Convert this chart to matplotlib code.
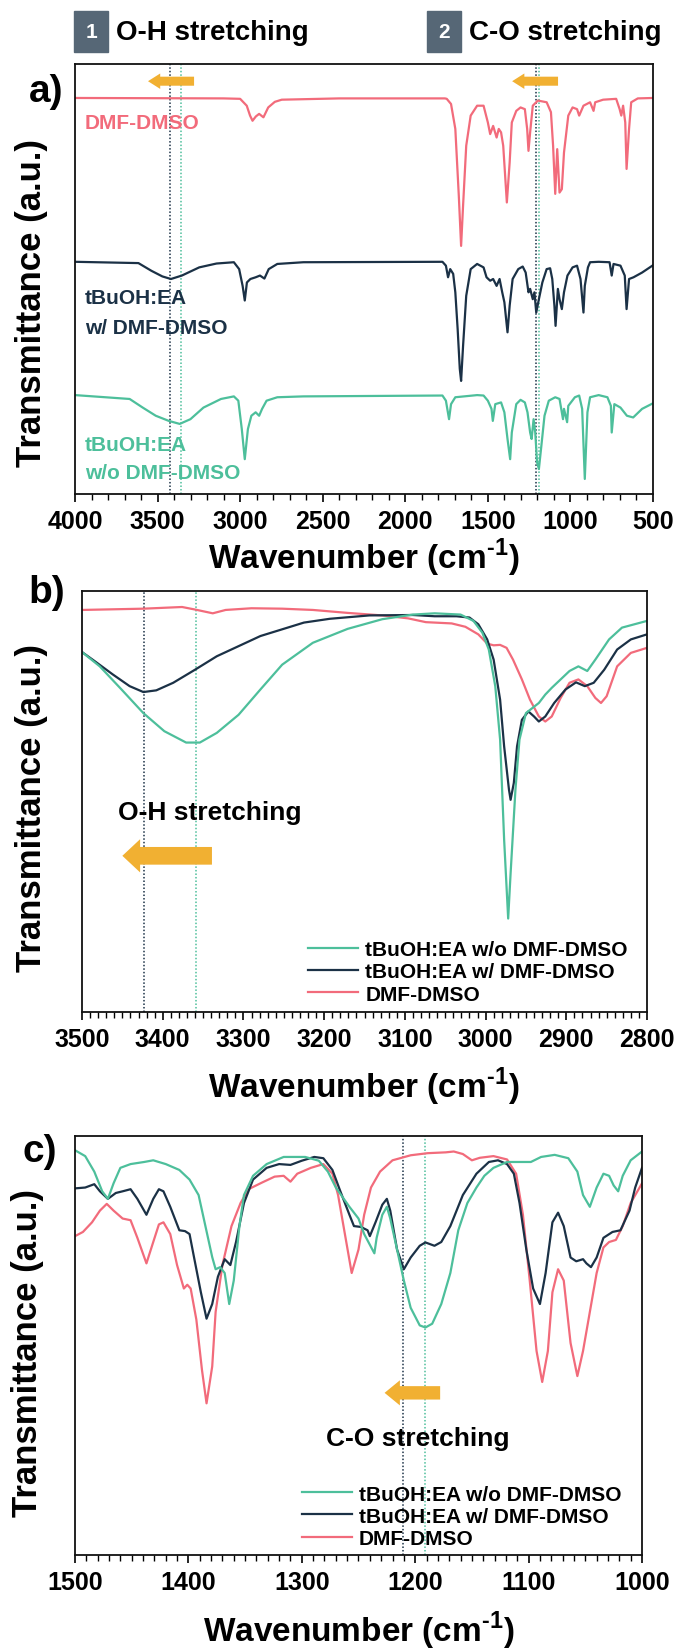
import matplotlib
matplotlib.use("Agg")
import matplotlib.pyplot as plt
import numpy as np
from matplotlib.patches import FancyArrow, Rectangle
from matplotlib.ticker import MultipleLocator, NullLocator

plt.rcParams['font.family'] = ['Liberation Sans', 'DejaVu Sans']
plt.rcParams['font.weight'] = 'bold'
plt.rcParams['mathtext.fontset'] = 'custom'
plt.rcParams['mathtext.rm'] = 'Liberation Sans:bold'
plt.rcParams['mathtext.bf'] = 'Liberation Sans:bold'

RED = '#F26B7B'
NAVY = '#1B3146'
TEAL = '#4DBF9B'
ORANGE = '#F1B032'
SLATE = '#566776'

LBL_WO = 'tBuOH:EA w/o DMF-DMSO'
LBL_W = 'tBuOH:EA w/ DMF-DMSO'
LBL_DMF = 'DMF-DMSO'

# ---- full range spectra (stacked), panel a ----
a_dmf_wn = [4000, 3100, 3000, 2960, 2940, 2925, 2905, 2885, 2859, 2830, 2790, 2748, 2400, 1760,
            1749, 1723, 1697, 1676, 1662, 1650, 1631, 1604, 1565, 1526, 1500, 1486, 1468, 1447,
            1434, 1420, 1407, 1394, 1385, 1368, 1355, 1328, 1302, 1276, 1262, 1254, 1244, 1228,
            1197, 1144, 1118, 1105, 1092, 1080, 1066, 1052, 1039, 1013, 987, 960, 947, 921, 881,
            860, 850, 802, 723, 702, 692, 681, 668, 660, 645, 632, 592, 500]
a_dmf_t = [92.1, 92.0, 91.9, 90.3, 88.0, 86.8, 87.8, 88.4, 87.6, 89.9, 91.2, 91.7, 92.0, 92.0,
           91.9, 90.7, 84.9, 69.4, 57.7, 67.1, 81.0, 88.0, 90.3, 90.3, 86.4, 83.7, 85.6, 82.9,
           84.9, 84.1, 81.0, 73.2, 67.8, 77.1, 86.4, 89.1, 89.9, 89.5, 84.9, 79.8, 84.1, 90.3,
           91.5, 91.1, 88.8, 81.0, 69.8, 80.2, 70.1, 70.9, 79.4, 88.0, 89.9, 89.5, 88.0, 90.3, 91.1,
           89.1, 91.1, 91.7, 91.9, 89.5, 88.0, 90.3, 86.4, 75.6, 84.9, 91.1, 92.0, 92.1]

a_w_wn = [4000, 3616, 3537, 3471, 3419, 3353, 3248, 3143, 3038, 3006, 2985, 2972, 2959, 2938,
          2906, 2880, 2853, 2827, 2775, 2617, 1775, 1754, 1741, 1728, 1710, 1697, 1683, 1670,
          1662, 1650, 1631, 1604, 1565, 1526, 1508, 1486, 1468, 1447, 1429, 1413, 1400, 1381,
          1368, 1350, 1316, 1289, 1271, 1254, 1244, 1228, 1218, 1207, 1191, 1170, 1144, 1123,
          1110, 1097, 1090, 1076, 1066, 1052, 1039, 1018, 987, 960, 939, 921, 913, 894, 881,
          829, 763, 750, 739, 697, 671, 660, 645, 618, 566, 500]
a_w_t = [54.0, 53.7, 51.9, 50.6, 50.0, 50.8, 52.7, 53.6, 53.9, 52.3, 48.4, 45.0, 49.2, 50.0,
         50.4, 50.8, 50.1, 52.3, 53.5, 53.9, 54.0, 53.1, 50.4, 52.3, 51.2, 46.9, 38.4, 29.1,
         26.3, 34.5, 46.1, 52.3, 53.5, 52.7, 50.4, 49.6, 50.0, 48.4, 50.0, 46.9, 44.6, 37.6,
         43.8, 50.0, 52.3, 52.9, 51.5, 46.9, 47.7, 45.3, 46.9, 42.2, 45.3, 49.2, 52.3, 52.5,
         50.0, 43.8, 39.1, 47.7, 45.3, 43.0, 46.9, 50.8, 52.7, 53.1, 50.0, 42.2, 48.4, 52.7, 53.9,
         54.0, 53.9, 50.8, 53.5, 53.1, 50.8, 43.0, 50.0, 50.4, 51.5, 53.2]

a_wo_wn = [4000, 3669, 3590, 3511, 3432, 3366, 3301, 3222, 3116, 3038, 3011, 2990, 2972, 2953,
           2932, 2906, 2885, 2867, 2840, 2775, 2617, 1775, 1754, 1735, 1723, 1697, 1565, 1526,
           1500, 1478, 1470, 1455, 1420, 1400, 1381, 1365, 1355, 1328, 1302, 1276, 1260, 1244,
           1235, 1223, 1213, 1202, 1191, 1176, 1157, 1131, 1092, 1066, 1045, 1039, 1020, 1013,
           973, 947, 929, 913, 897, 881, 829, 776, 755, 750, 734, 697, 658, 620, 566, 500]
a_wo_t = [23.0, 22.1, 20.1, 18.2, 17.0, 16.3, 17.4, 20.1, 22.1, 22.7, 21.7, 15.1, 8.1, 15.1,
          18.2, 19.0, 18.2, 19.8, 21.7, 22.5, 22.7, 22.9, 21.7, 17.4, 20.9, 22.5, 23.0, 22.9,
          21.7, 19.8, 17.0, 20.9, 21.3, 19.0, 12.8, 8.1, 14.3, 20.9, 21.9, 21.3, 19.0, 14.3,
          12.8, 17.4, 14.3, 7.4, 5.8, 11.2, 18.2, 21.7, 22.5, 22.1, 17.4, 19.8, 16.7, 20.5,
          22.5, 22.9, 19.8, 3.5, 19.0, 22.5, 23.0, 22.5, 20.5, 14.3, 20.9, 20.1, 18.2, 17.8, 19.8, 21.1]

# ---- O-H / C-H region, panel b ----
b_dmf_wn = [3500, 3424, 3376, 3360, 3338, 3322, 3290, 3252, 3214, 3171, 3128, 3096, 3074, 3042,
            3025, 3009, 2998, 2990, 2982, 2974, 2966, 2955, 2945, 2934, 2926, 2918, 2907, 2896,
            2885, 2874, 2864, 2857, 2850, 2837, 2820, 2800]
b_dmf_t = [95.5, 95.8, 96.2, 95.6, 94.7, 95.5, 95.9, 95.8, 95.5, 94.8, 94.2, 93.5, 92.6, 92.3,
           91.5, 89.7, 87.5, 87.1, 87.2, 86.5, 83.7, 79.0, 74.2, 70.2, 69.0, 70.2, 74.6, 78.2,
           79.0, 77.4, 74.6, 73.4, 75.0, 82.1, 85.3, 86.5]

b_w_wn = [3500, 3484, 3462, 3441, 3424, 3408, 3387, 3360, 3333, 3306, 3279, 3252, 3225, 3193,
          3144, 3090, 3063, 3036, 3020, 3009, 2998, 2990, 2982, 2977, 2971, 2969, 2965, 2961,
          2955, 2947, 2940, 2934, 2926, 2915, 2901, 2888, 2877, 2866, 2853, 2837, 2820, 2800]
b_w_t = [85.5, 83.3, 80.2, 77.4, 76.0, 76.4, 78.2, 81.3, 84.5, 86.9, 89.3, 90.9, 92.5, 93.4,
         94.2, 94.3, 94.0, 94.0, 93.7, 92.1, 88.5, 83.7, 74.2, 63.1, 52.8, 50.4, 54.4, 63.1,
         69.4, 71.4, 70.2, 69.0, 70.2, 73.4, 76.6, 78.3, 77.4, 78.2, 81.3, 86.1, 88.5, 89.7]

b_wo_wn = [3500, 3478, 3451, 3424, 3398, 3371, 3354, 3333, 3306, 3279, 3252, 3214, 3171, 3128,
           3090, 3063, 3031, 3015, 3004, 2996, 2988, 2982, 2977, 2972, 2969, 2963, 2958, 2950,
           2942, 2934, 2926, 2918, 2907, 2896, 2885, 2874, 2864, 2847, 2831, 2800]
b_wo_t = [85.5, 82.1, 76.6, 71.0, 66.7, 64.0, 64.0, 66.3, 70.6, 76.6, 82.5, 87.7, 91.0, 93.3,
          94.4, 94.7, 94.4, 92.9, 90.1, 86.1, 77.4, 64.7, 40.9, 22.2, 32.9, 52.8, 64.7, 71.0,
          72.2, 73.4, 75.4, 77.0, 79.0, 81.0, 82.1, 81.0, 83.7, 88.5, 91.3, 92.9]

# ---- fingerprint region, panel c ----
c_wo_wn = [1500, 1491, 1483, 1476, 1471, 1466, 1460, 1451, 1439, 1431, 1420, 1408, 1399, 1391,
           1385, 1379, 1376, 1372, 1368, 1364, 1360, 1355, 1351, 1343, 1331, 1316, 1297, 1285,
           1277, 1270, 1258, 1250, 1245, 1236, 1234, 1229, 1225, 1222, 1216, 1210, 1204, 1196,
           1191, 1185, 1177, 1169, 1162, 1154, 1146, 1139, 1131, 1119, 1108, 1098, 1089, 1077,
           1065, 1057, 1052, 1046, 1040, 1034, 1029, 1025, 1021, 1017, 1010, 1000]
c_wo_t = [96.6, 95.2, 91.5, 86.8, 85.0, 88.7, 92.4, 93.3, 93.8, 94.2, 93.3, 91.9, 89.6, 85.9,
          78.5, 71.1, 68.2, 68.7, 67.3, 59.9, 65.5, 78.5, 85.9, 90.5, 93.3, 95.0, 95.0, 94.1,
          91.5, 87.7, 83.1, 80.3, 76.6, 72.0, 75.7, 81.2, 83.1, 80.3, 72.9, 65.5, 59.0, 54.8,
          54.3, 55.2, 59.9, 67.3, 77.5, 84.0, 87.7, 90.5, 92.4, 93.8, 93.8, 93.8, 95.0, 95.5,
          94.7, 91.5, 85.9, 83.1, 87.7, 91.0, 90.5, 88.2, 86.8, 90.5, 94.2, 96.3]

c_w_wn = [1500, 1491, 1483, 1478, 1471, 1464, 1458, 1451, 1445, 1437, 1431, 1426, 1422, 1416,
          1408, 1403, 1399, 1395, 1389, 1384, 1379, 1374, 1368, 1363, 1358, 1351, 1343, 1331,
          1320, 1310, 1300, 1289, 1281, 1273, 1266, 1258, 1254, 1248, 1242, 1240, 1235, 1229,
          1225, 1222, 1216, 1210, 1204, 1196, 1191, 1183, 1177, 1169, 1158, 1146, 1135, 1127,
          1119, 1113, 1108, 1102, 1096, 1090, 1085, 1079, 1074, 1069, 1063, 1058, 1052, 1049,
          1045, 1040, 1034, 1026, 1019, 1011, 1006, 1000]
c_w_t = [87.5, 87.7, 88.5, 86.8, 85.0, 86.4, 86.8, 87.3, 85.0, 81.2, 85.0, 87.3, 86.8, 83.1,
         77.5, 77.3, 76.6, 71.0, 62.7, 56.4, 59.9, 66.4, 70.6, 69.2, 74.7, 84.0, 89.6, 92.4,
         93.3, 93.1, 94.1, 95.0, 94.7, 91.9, 86.8, 81.2, 78.5, 78.3, 77.5, 76.1, 79.4, 83.6,
         85.0, 82.2, 72.9, 68.2, 71.0, 73.8, 74.6, 73.8, 74.7, 78.5, 85.9, 91.0, 93.8, 94.2,
         93.3, 91.0, 84.0, 72.9, 63.6, 59.9, 67.3, 79.4, 81.7, 78.5, 71.0, 70.1, 70.6, 69.6,
         68.7, 71.0, 75.7, 77.1, 77.5, 82.2, 87.7, 92.4]

c_dmf_wn = [1500, 1493, 1485, 1478, 1472, 1466, 1458, 1451, 1445, 1437, 1431, 1426, 1422, 1416,
            1410, 1404, 1401, 1398, 1393, 1388, 1384, 1379, 1376, 1370, 1362, 1354, 1347, 1335,
            1324, 1316, 1310, 1304, 1292, 1281, 1273, 1268, 1262, 1256, 1250, 1245, 1239, 1231,
            1220, 1204, 1189, 1173, 1166, 1158, 1150, 1143, 1131, 1119, 1111, 1105, 1099, 1093,
            1088, 1083, 1079, 1074, 1069, 1063, 1057, 1052, 1046, 1040, 1034, 1029, 1023, 1017,
            1010, 1000]
c_dmf_t = [76.1, 77.1, 79.4, 82.2, 83.8, 82.2, 80.3, 79.9, 75.7, 69.6, 74.7, 78.9, 79.4, 76.6,
           69.2, 63.6, 64.5, 63.6, 56.2, 44.1, 36.2, 45.0, 58.0, 69.2, 78.5, 84.0, 87.3, 88.9,
           90.3, 90.5, 89.1, 91.0, 92.4, 93.3, 91.0, 85.9, 76.6, 67.3, 72.9, 81.2, 87.7, 91.5,
           94.2, 95.4, 95.9, 96.1, 96.3, 95.7, 94.2, 94.8, 95.2, 94.4, 91.0, 81.2, 65.5, 48.7,
           41.3, 48.7, 62.7, 68.2, 65.5, 50.6, 42.7, 48.7, 58.0, 67.3, 73.4, 74.7, 75.2, 78.5,
           84.0, 88.7]

# marker positions (cm-1)
oh_w, oh_wo = 3423, 3359
co_w, co_wo = 1211, 1191

W, H = 681, 1649
fig = plt.figure(figsize=(W / 100, H / 100), dpi=100)


def box(left, top, right, bottom):
    return [left / W, 1 - bottom / H, (right - left) / W, (bottom - top) / H]


def style(ax, xlim, major, minor):
    ax.set_xlim(*xlim)
    ax.set_ylim(0, 100)
    ax.xaxis.set_major_locator(MultipleLocator(major))
    ax.xaxis.set_minor_locator(MultipleLocator(minor))
    ax.yaxis.set_major_locator(NullLocator())
    ax.tick_params(axis='x', which='major', direction='out', length=6, width=1.2,
                   pad=5, labelsize=18)
    ax.tick_params(axis='x', which='minor', direction='out', length=4, width=1.0)
    for s in ax.spines.values():
        s.set_linewidth(1.3)
        s.set_color('#111111')
    for lab in ax.get_xticklabels():
        lab.set_fontweight('bold')


def arrow(ax, tail, tip, y, shaft, head, hlen):
    ax.add_patch(FancyArrow(tail, y, tip - tail, 0, width=shaft, head_width=head,
                            head_length=hlen, length_includes_head=True,
                            color=ORANGE, lw=0, zorder=4))


def vlines(ax, xs, cols):
    for x, c in zip(xs, cols):
        ax.axvline(x, color=c, lw=1.1, ls=(0, (1, 1.3)), zorder=1)


xlab = r'Wavenumber (cm$^{\text{-}1}$)'
ylab = 'Transmittance (a.u.)'

# header tags
for left, num, txt in [(74, '1', 'O-H stretching'), (427, '2', 'C-O stretching')]:
    fig.patches.append(Rectangle((left / W, 1 - 53 / H), 34 / W, 41 / H,
                                 transform=fig.transFigure, color=SLATE))
    fig.text((left + 17) / W, 1 - 33 / H, num, color='white', fontsize=15,
             ha='center', va='center')
    fig.text((left + 42) / W, 1 - 33 / H, txt, color='black', fontsize=20,
             ha='left', va='center')

# panel a
ax = fig.add_axes(box(75, 65, 653, 495))
ax.plot(a_dmf_wn, a_dmf_t, color=RED, lw=1.6)
ax.plot(a_w_wn, a_w_t, color=NAVY, lw=1.6)
ax.plot(a_wo_wn, a_wo_t, color=TEAL, lw=1.6)
vlines(ax, [oh_w, oh_wo, co_w, co_wo], [NAVY, TEAL, NAVY, TEAL])
arrow(ax, 3279, 3558, 96.0, 2.1, 3.6, 74)
arrow(ax, 1075, 1353, 96.0, 2.1, 3.6, 74)
style(ax, (4000, 500), 500, 100)
ax.text(3940, 86.5, 'DMF-DMSO', color=RED, fontsize=15, va='center')
ax.text(3940, 45.6, 'tBuOH:EA', color=NAVY, fontsize=15, va='center')
ax.text(3940, 38.8, 'w/ DMF-DMSO', color=NAVY, fontsize=15, va='center')
ax.text(3940, 11.6, 'tBuOH:EA', color=TEAL, fontsize=15, va='center')
ax.text(3940, 5.1, 'w/o DMF-DMSO', color=TEAL, fontsize=15, va='center')
fig.text(63 / W, 1 - 92 / H, 'a)', fontsize=28, ha='right', va='center')
fig.text(364 / W, 1 - 569 / H, xlab, fontsize=24, ha='center', va='baseline')
fig.text(32 / W, 1 - 303 / H, ylab, fontsize=25, rotation=90, ha='center', va='center')

# panel b
ax = fig.add_axes(box(82, 592, 647, 1013))
ax.plot(b_dmf_wn, b_dmf_t, color=RED, lw=1.6, label=LBL_DMF)
ax.plot(b_w_wn, b_w_t, color=NAVY, lw=1.6, label=LBL_W)
ax.plot(b_wo_wn, b_wo_t, color=TEAL, lw=1.6, label=LBL_WO)
vlines(ax, [oh_w, oh_wo], [NAVY, TEAL])
arrow(ax, 3339, 3450, 37.1, 4.2, 7.9, 22)
ax.text(3455, 47.5, 'O-H stretching', fontsize=19, va='center')
style(ax, (3500, 2800), 100, 10)
h, l = ax.get_legend_handles_labels()
ax.legend(h[::-1], l[::-1], loc='lower left', bbox_to_anchor=(0.40, 0.02), frameon=False,
          fontsize=15, borderpad=0, borderaxespad=0, handlelength=2.4,
          handletextpad=0.35, labelspacing=0.15)
fig.text(65 / W, 1 - 593 / H, 'b)', fontsize=28, ha='right', va='center')
fig.text(364 / W, 1 - 1098 / H, xlab, fontsize=24, ha='center', va='baseline')
fig.text(32 / W, 1 - 808 / H, ylab, fontsize=25, rotation=90, ha='center', va='center')

# panel c
ax = fig.add_axes(box(75, 1137, 642, 1556))
ax.plot(c_dmf_wn, c_dmf_t, color=RED, lw=1.6, label=LBL_DMF)
ax.plot(c_w_wn, c_w_t, color=NAVY, lw=1.6, label=LBL_W)
ax.plot(c_wo_wn, c_wo_t, color=TEAL, lw=1.6, label=LBL_WO)
vlines(ax, [co_w, co_wo], [NAVY, TEAL])
arrow(ax, 1178, 1227, 38.7, 3.2, 6.0, 13.5)
ax.text(1197.5, 27.9, 'C-O stretching', fontsize=19, ha='center', va='center')
style(ax, (1500, 1000), 100, 10)
h, l = ax.get_legend_handles_labels()
ax.legend(h[::-1], l[::-1], loc='lower left', bbox_to_anchor=(0.40, 0.017), frameon=False,
          fontsize=15, borderpad=0, borderaxespad=0, handlelength=2.4,
          handletextpad=0.35, labelspacing=0.15)
fig.text(57 / W, 1 - 1152 / H, 'c)', fontsize=28, ha='right', va='center')
fig.text(359 / W, 1 - 1642 / H, xlab, fontsize=24, ha='center', va='baseline')
fig.text(28 / W, 1 - 1353 / H, ylab, fontsize=25, rotation=90, ha='center', va='center')

fig.savefig('out.png', dpi=100)
